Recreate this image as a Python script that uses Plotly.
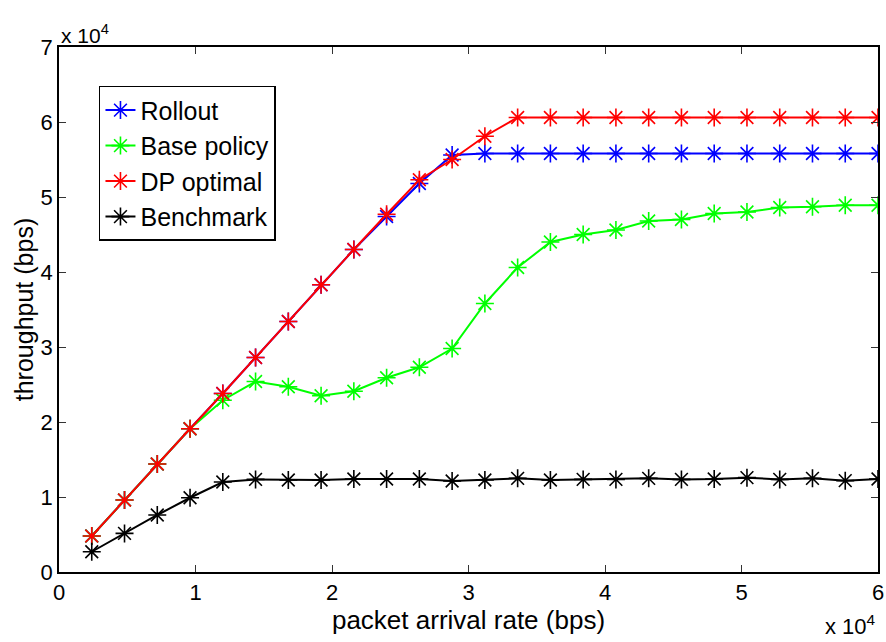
import plotly.graph_objects as go

arrival_rate = [2400 * i for i in range(1, 26)]

rollout = [4800, 9600, 14400, 19100, 23800, 28600, 33400, 38300, 43000, 47400, 51800, 55600, 55800,
           55800, 55800, 55800, 55800, 55800, 55800, 55800, 55800, 55800, 55800, 55800, 55800]
base_policy = [4800, 9600, 14400, 19100, 22900, 25400, 24700, 23500, 24100, 25900, 27300, 29800, 35800,
               40600, 44000, 45000, 45600, 46800, 47000, 47800, 48000, 48600, 48700, 48900, 48900]
dp_optimal = [4800, 9600, 14400, 19100, 23800, 28600, 33400, 38300, 43000, 47700, 52300, 55000, 58100,
              60600, 60600, 60600, 60600, 60600, 60600, 60600, 60600, 60600, 60600, 60600, 60600]
benchmark = [2700, 5150, 7600, 9900, 12000, 12350, 12270, 12270, 12400, 12400, 12400, 12130, 12270,
             12490, 12270, 12350, 12350, 12490, 12350, 12400, 12580, 12350, 12490, 12180, 12400]

series = [
    ("Rollout", rollout, "#0000ff"),
    ("Base policy", base_policy, "#00ff00"),
    ("DP optimal", dp_optimal, "#ff0000"),
    ("Benchmark", benchmark, "#000000"),
]

x_ticks = [0, 10000, 20000, 30000, 40000, 50000, 60000]
x_tick_labels = ["0", "1", "2", "3", "4", "5", "6"]
y_ticks = [0, 10000, 20000, 30000, 40000, 50000, 60000, 70000]
y_tick_labels = ["0", "1", "2", "3", "4", "5", "6", "7"]

FONT = "Liberation Sans, Arial, Helvetica, sans-serif"

fig = go.Figure()
for name, vals, color in series:
    fig.add_trace(go.Scatter(
        x=arrival_rate, y=vals, name=name, mode="lines+markers",
        line=dict(color=color, width=2),
        marker=dict(symbol="asterisk-open", size=15, color=color,
                    line=dict(color=color, width=1.6)),
    ))

axis_common = dict(
    showgrid=False, zeroline=False, showline=True, linecolor="black", linewidth=1.5,
    mirror="ticks", ticks="inside", ticklen=7, tickcolor="#333333", tickwidth=1,
    tickfont=dict(family=FONT, size=22, color="black"), automargin=False,
)

fig.update_layout(
    width=886, height=642,
    margin=dict(l=59, r=8, t=47, b=70),
    paper_bgcolor="white", plot_bgcolor="white",
    font=dict(family=FONT, size=24, color="black"),
    xaxis=dict(range=[0, 60000], tickvals=x_ticks, ticktext=x_tick_labels,
               title=dict(text="packet arrival rate (bps)", font=dict(size=26), standoff=0),
               **axis_common),
    yaxis=dict(range=[0, 70000], tickvals=y_ticks, ticktext=y_tick_labels,
               title=dict(text="throughput (bps)", font=dict(size=25), standoff=0),
               **axis_common),
    legend=dict(x=0.0488, y=0.926, xanchor="left", yanchor="top",
                bordercolor="black", borderwidth=1.5, bgcolor="white",
                font=dict(family=FONT, size=25), tracegroupgap=0, itemwidth=30),
    showlegend=True,
)

fig.add_annotation(text="x 10<sup>4</sup>", xref="paper", yref="paper",
                   x=0.0, y=1.0, xanchor="left", yanchor="bottom", showarrow=False,
                   font=dict(family=FONT, size=21), yshift=-2)
fig.add_annotation(text="x 10<sup>4</sup>", xref="paper", yref="paper",
                   x=1.0, y=0.0, xanchor="right", yanchor="top", showarrow=False,
                   font=dict(family=FONT, size=22), yshift=-37)

fig.write_html("out.html", config={"displayModeBar": False},
               post_script="document.body.style.margin='0';document.body.style.overflow='hidden';")
